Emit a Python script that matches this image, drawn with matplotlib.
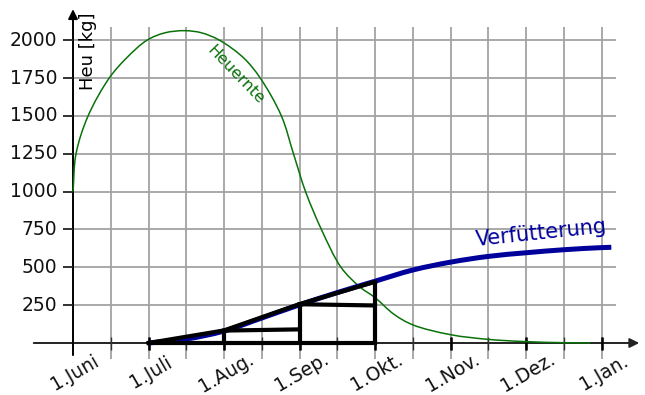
import numpy as np
import matplotlib.pyplot as plt
from matplotlib.path import Path
from matplotlib.patches import PathPatch

# x = months since 1 June, y = kg
month_pos = [0, 1, 2, 3, 4, 5, 6, 7]
month_labels = ["1.Juni", "1.Juli", "1.Aug.", "1.Sep.", "1.Okt.", "1.Nov.", "1.Dez.", "1.Jan."]
half_months = [0.5, 1, 1.5, 2, 2.5, 3, 3.5, 4, 4.5, 5, 5.5, 6, 6.5, 7]
y_ticks = [250, 500, 750, 1000, 1250, 1500, 1750, 2000]

ernte_x = [0, 0.04, 0.2, 0.48, 0.71, 0.98, 1.22, 1.48, 1.70, 1.94, 2.26, 2.48, 2.76,
           2.92, 3.08, 3.29, 3.55, 3.8, 4.0, 4.25, 4.5, 5.0, 5.5, 6.0, 6.5, 6.85]
ernte_y = [1000, 1250, 1500, 1750, 1883, 2000, 2049, 2063, 2049, 2000, 1883, 1750, 1500,
           1250, 1000, 750, 500, 370, 300, 190, 120, 55, 24, 9, 2, 0]

futter_x = [1.0, 1.5, 2.0, 2.5, 3.0, 3.5, 4.0, 4.5, 5.0, 5.5, 6.0, 6.5, 7.0, 7.13]
futter_y = [0, 26, 79, 165, 252, 333, 408, 482, 534, 572, 596, 616, 630, 632]

# secant approximation and steps
sec_x = [1, 2, 3, 4]
sec_y = [0, 83, 257, 404]
step_lo = [82, 256]
step_hi = [90, 248]

# pixel helpers for layout (origin at 73,343; 75.5 px per month; 37.85 px per 250 kg)
px_m = 75.5
px_kg = 37.85 / 250


def smooth_path(xs, ys):
    # centripetal catmull-rom through the read points, drawn as bezier segments
    sc = np.array([px_m, px_kg])
    p = np.column_stack([xs, ys]) * sc
    p = np.vstack([2 * p[0] - p[1], p, 2 * p[-1] - p[-2]])
    t = np.concatenate([[0], np.cumsum(np.linalg.norm(np.diff(p, axis=0), axis=1) ** 0.5)])
    verts = [p[1]]
    codes = [Path.MOVETO]
    for i in range(1, len(p) - 2):
        p0, p1, p2, p3 = p[i - 1], p[i], p[i + 1], p[i + 2]
        t0, t1, t2, t3 = t[i - 1], t[i], t[i + 1], t[i + 2]
        m1 = (p1 - p0) / (t1 - t0) - (p2 - p0) / (t2 - t0) + (p2 - p1) / (t2 - t1)
        m2 = (p2 - p1) / (t2 - t1) - (p3 - p1) / (t3 - t1) + (p3 - p2) / (t3 - t2)
        m1 *= (t2 - t1)
        m2 *= (t2 - t1)
        verts += [p1 + m1 / 3, p2 - m2 / 3, p2]
        codes += [Path.CURVE4] * 3
    return Path(np.array(verts) / sc, codes)


fig = plt.figure(figsize=(6.45, 3.95), dpi=100)
ax = fig.add_axes([0, 0, 1, 1])
ax.set_xlim(-73 / px_m, (645 - 73) / px_m)
ax.set_ylim(-(395 - 343) / px_kg, 343 / px_kg)
ax.axis('off')

grid_c = '#a2a2a2'
ax.vlines(half_months, -106, 2085, color=grid_c, lw=1.3, zorder=1)
ax.hlines(y_ticks, 0, 7.19, color=grid_c, lw=1.3, zorder=1)

# axes with arrows
ax.annotate('', xy=(7.5, 0), xytext=(-0.52, 0),
            arrowprops=dict(arrowstyle='-|>', color='#222222', lw=1.4, mutation_scale=14,
                            shrinkA=0, shrinkB=0), zorder=3)
ax.annotate('', xy=(0, 2205), xytext=(0, -80),
            arrowprops=dict(arrowstyle='-|>', color='black', lw=1.4, mutation_scale=14,
                            shrinkA=0, shrinkB=0), zorder=3)

# ticks
ax.vlines(half_months, -46, 40, color='#333333', lw=1.0, zorder=3)
ax.vlines(month_pos[1:], -46, 40, color='black', lw=1.8, zorder=3)
ax.hlines(y_ticks, -0.13, 0, color='#222222', lw=1.3, zorder=3)

for v in y_ticks:
    ax.text(-0.21, v, str(v), ha='right', va='center', fontsize=13.5, color='#111111')
for m, lab in zip(month_pos, month_labels):
    ax.text(m + 0.03, -195, lab, ha='center', va='center', rotation=30, fontsize=13.5,
            color='#111111')

ax.text(0.2, 1929, 'Heu [kg]', rotation=90, ha='center', va='center', fontsize=13)

# curves
ax.add_patch(PathPatch(smooth_path(ernte_x, ernte_y), fill=False, edgecolor='#0a720a',
                       lw=1.1, zorder=4))
ax.add_patch(PathPatch(smooth_path(futter_x, futter_y), fill=False, edgecolor='#00009b',
                       lw=3.6, capstyle='butt', zorder=5))

ax.plot(sec_x, sec_y, color='black', lw=3.0, zorder=6)
ax.vlines(sec_x[1:], 0, sec_y[1:], color='black', lw=3.0, zorder=6)
ax.plot([sec_x[0], sec_x[-1]], [0, 0], color='black', lw=3.0, zorder=6)
for i in range(2):
    ax.plot([sec_x[i + 1], sec_x[i + 2]], [step_lo[i], step_hi[i]], color='black', lw=3.0,
            zorder=6)

ax.text(2.16, 1771, 'Heuernte', color='#0a720a', rotation=-46, ha='center', va='center',
        fontsize=11.5)
ax.text(6.2, 727, 'Verfütterung', color='#00009b', rotation=6, ha='center', va='center',
        fontsize=15)

fig.savefig('out.png', dpi=100)
